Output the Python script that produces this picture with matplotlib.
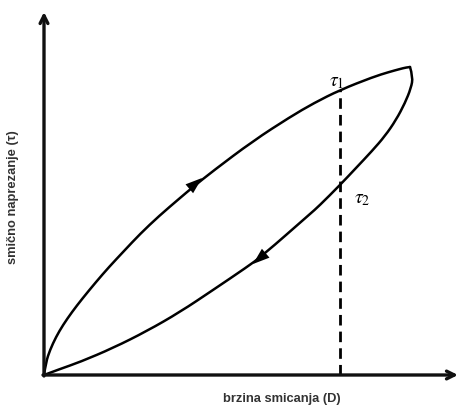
import matplotlib.pyplot as plt
from matplotlib.path import Path
from matplotlib.patches import PathPatch

plt.rcParams['mathtext.fontset'] = 'stix'

up_x = [0, 2, 6, 12, 19, 28, 38, 52, 65, 80, 96, 115, 136, 149, 169, 209, 246, 270, 296, 329, 345, 356, 362, 366]
up_y = [0, 13, 25, 38, 50, 63, 76, 93, 108, 124, 141, 159, 177, 188, 204, 234, 258, 272, 285, 298, 303, 306, 307.5, 308]
down_x = [366, 369, 367, 361, 352, 341, 328, 312, 296, 275, 266, 218, 203, 169, 136, 103, 69, 36, 16, 0]
down_y = [308, 298, 287, 272, 255, 239, 224, 207, 190, 169, 161, 119, 108, 85, 63, 44, 27, 13, 6, 0]
D_mark = 296
tau1 = 285
tau2 = 190


def smooth_path(xs, ys):
    # quadratic bezier through midpoints, the read points act as control points
    pts = list(zip(xs, ys))
    verts = [pts[0]]
    codes = [Path.MOVETO]
    for i in range(1, len(pts) - 1):
        mid = ((pts[i][0] + pts[i + 1][0]) / 2, (pts[i][1] + pts[i + 1][1]) / 2)
        if i == len(pts) - 2:
            mid = pts[-1]
        verts += [pts[i], mid]
        codes += [Path.CURVE3, Path.CURVE3]
    return Path(verts, codes)


fig = plt.figure(figsize=(4.59, 4.10), dpi=100)
ax = fig.add_axes([0, 0, 1, 1])
ax.set_xlim(-44, 415)
ax.set_ylim(-34, 376)
ax.axis('off')

# axes with arrows
ax.annotate('', xy=(0, 363), xytext=(0, -1),
            arrowprops=dict(arrowstyle='->', lw=2.4, color='#111111', mutation_scale=14,
                            shrinkA=0, shrinkB=0))
ax.annotate('', xy=(414, 0), xytext=(-1, 0),
            arrowprops=dict(arrowstyle='->', lw=2.4, color='#111111', mutation_scale=14,
                            shrinkA=0, shrinkB=0))

# loop
for xs, ys in [(up_x, up_y), (down_x, down_y)]:
    ax.add_patch(PathPatch(smooth_path(xs, ys), facecolor='none', edgecolor='black',
                           lw=1.8, capstyle='round', joinstyle='round'))

# direction arrows
head = '-|>,head_length=0.6,head_width=0.21'
ax.annotate('', xy=(158, 197), xytext=(138, 180),
            arrowprops=dict(arrowstyle=head, color='black', lw=0, mutation_scale=20,
                            shrinkA=0, shrinkB=0))
ax.annotate('', xy=(209, 111), xytext=(229, 128),
            arrowprops=dict(arrowstyle=head, color='black', lw=0, mutation_scale=20,
                            shrinkA=0, shrinkB=0))

# dashed line at the chosen shear rate
ax.plot([D_mark, D_mark], [0, tau1], color='black', lw=2.0, linestyle=(0, (3.8, 2.2)))

ax.text(D_mark - 3, tau1 + 10, r'$\tau_1$', fontsize=14, ha='center', va='center')
ax.text(D_mark + 22, tau2 - 13, r'$\tau_2$', fontsize=14, ha='center', va='center')

ax.text(-31.5, 179, 'smično naprezanje (τ)', rotation=90, ha='center', va='center',
        fontsize=9.3, fontweight='bold', color='#333333', family='Liberation Sans')
ax.text(238, -23, 'brzina smicanja (D)', ha='center', va='center',
        fontsize=9.3, fontweight='bold', color='#333333', family='Liberation Sans')

fig.savefig('out.png', dpi=100)
